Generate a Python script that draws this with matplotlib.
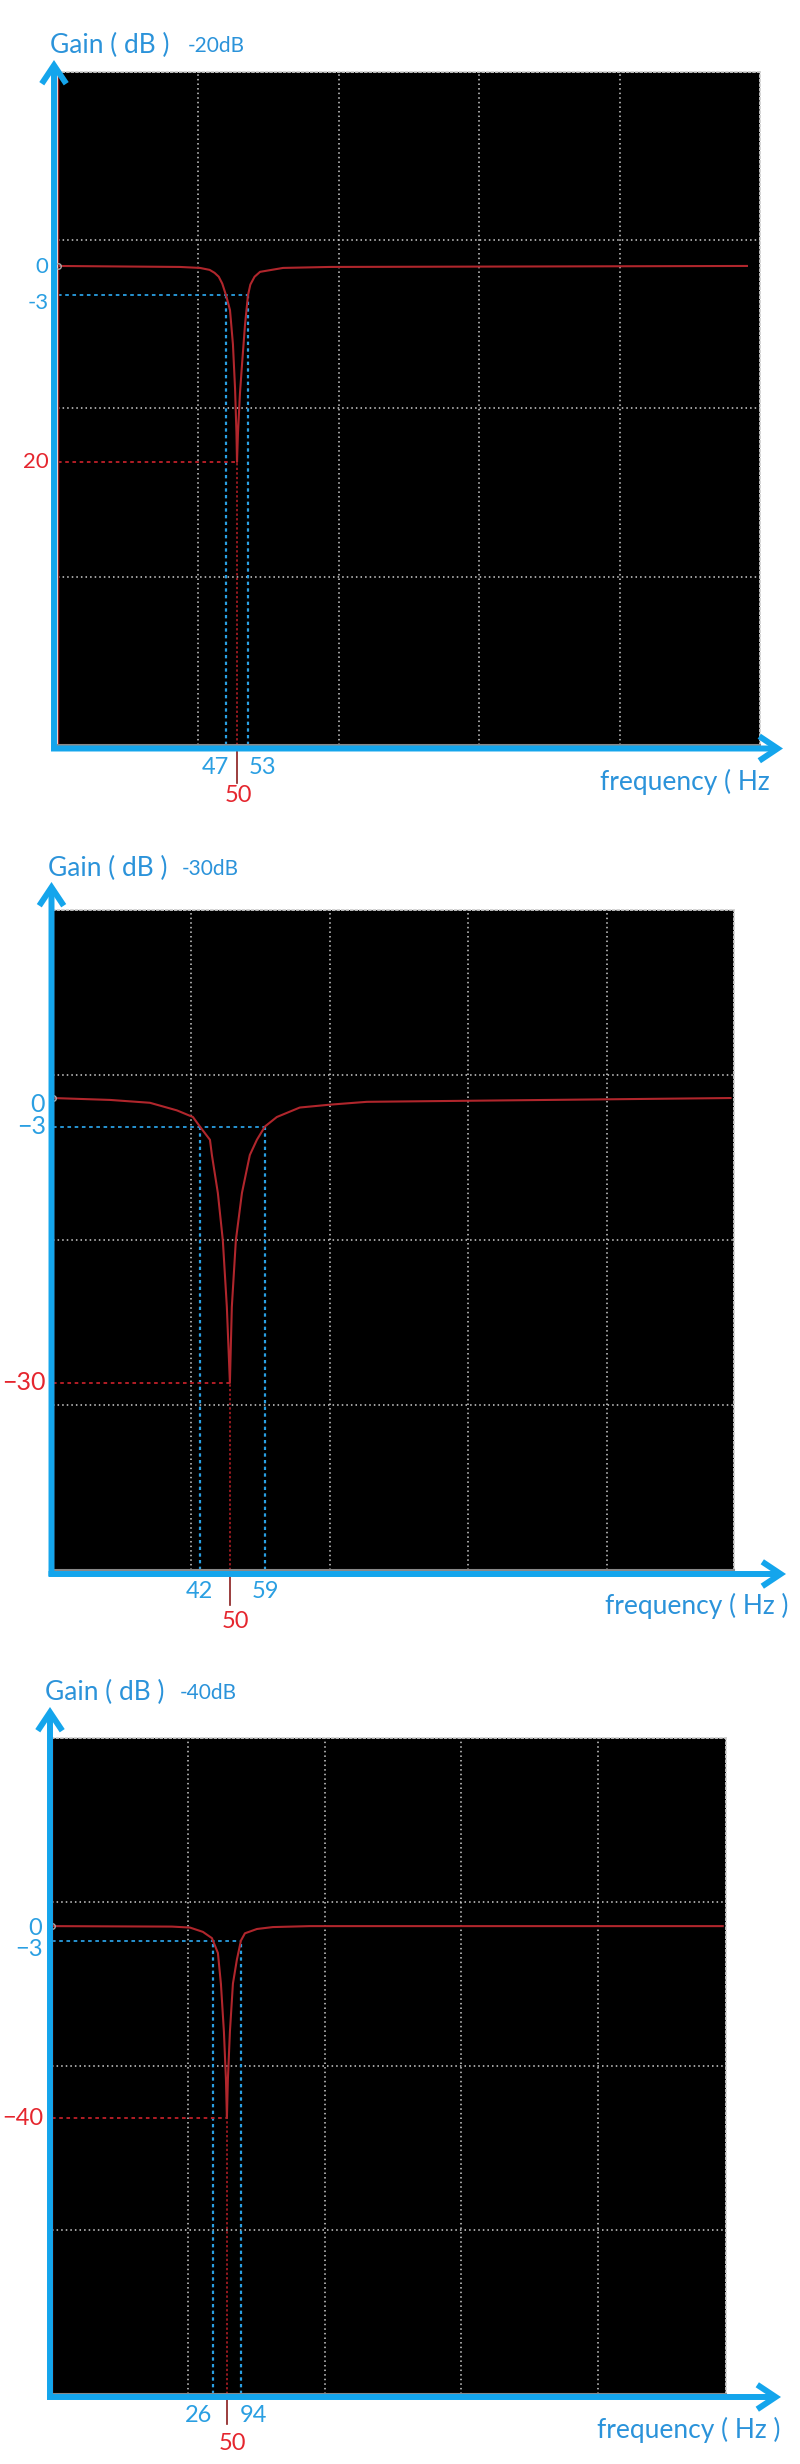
import matplotlib
matplotlib.use("Agg")
import numpy as np
import matplotlib.pyplot as plt
import matplotlib.transforms as mtransforms
from matplotlib.patches import FancyArrowPatch

plt.rcParams['font.family'] = ['Lato', 'DejaVu Sans']

W, H = 800, 2464

# ---------------- data ----------------
titles = ["-20dB", "-30dB", "-40dB"]
depths = [-20, -30, -40]
depth_labels = ["20", "\u221230", "\u221240"]
m3_labels = ["-3", "\u22123", "\u22123"]
freq_names = ["frequency ( Hz", "frequency ( Hz )", "frequency ( Hz )"]

# -3 dB band edges and centre (Hz) and their place on the schematic axis (grid columns)
f_low = [47, 42, 26]
f_center = [50, 50, 50]
f_high = [53, 59, 94]
pos_low = [1.197, 1.061, 1.179]
pos_center = [1.275, 1.278, 1.282]
pos_high = [1.353, 1.531, 1.385]

# response curves: position (grid columns) and gain (dB)
x1 = [0, 0.869, 1.011, 1.080, 1.115, 1.145, 1.170, 1.197, 1.225, 1.246, 1.261, 1.271, 1.275,
      1.282, 1.296, 1.311, 1.332, 1.353, 1.370, 1.400, 1.439, 1.603, 1.937, 4.907]
g1 = [0, -0.1, -0.2, -0.4, -0.7, -1.1, -1.8, -3.0, -4.5, -8.0, -12.5, -17.0, -20.0,
      -17.0, -13.0, -10.0, -6.0, -3.0, -1.9, -1.1, -0.6, -0.2, -0.1, 0]

x2 = [0, 0.412, 0.700, 0.895, 1.011, 1.061, 1.134, 1.148, 1.191, 1.227, 1.256, 1.278,
      1.292, 1.321, 1.365, 1.422, 1.473, 1.531, 1.617, 1.783, 2.000, 2.267, 4.895]
g2 = [0, -0.2, -0.5, -1.3, -2.0, -3.0, -4.4, -6.0, -10.0, -15.0, -22.0, -30.0,
      -22.0, -15.0, -10.0, -6.0, -4.4, -3.0, -2.0, -1.0, -0.7, -0.4, 0]

x3 = [0, 0.879, 1.011, 1.106, 1.172, 1.216, 1.238, 1.260, 1.275, 1.282,
      1.289, 1.304, 1.326, 1.355, 1.385, 1.414, 1.502, 1.619, 1.890, 4.916]
g3 = [0, -0.1, -0.3, -1.2, -2.5, -5.6, -12.0, -22.0, -32.0, -40.0,
      -32.0, -22.0, -12.0, -7.0, -3.0, -1.5, -0.6, -0.2, 0, 0]

curves_x = [x1, x2, x3]
curves_g = [g1, g2, g3]

# ---------------- layout (pixels) ----------------
boxes = [(58, 760, 72, 745), (53, 734, 910, 1570), (52, 726, 1738, 2394)]
xmax = [5.0, 4.92, 4.94]
ylims = [(-48.9, 19.8), (-49.7, 19.8), (-97.5, 39.2)]
yaxis_x = [54, 51.5, 50]
xaxis_y = [748.5, 1574, 2397]
ytip = [60, 882, 1707]
xtip = [783, 786, 781]
title_y = [45, 868, 1692]
gain_x = [50, 48, 45]
sub_x = [188, 182, 180]
freq_pos = [(600, 782), (605, 1606), (597, 2430)]
tick_len = [38, 35, 30]
# label offsets in pixels (dx from marker, dy below the plot bottom)
low_dx = [-11, 0, -14]
high_dx = [15, 1, 12]
cen_dx = [1, 6, 6]
row1_dy = [22, 22, 21]
row2_dy = [50, 52, 49]
# y label (dx from plot left, dy from value)
y0_dy = [1, 6, 2]
y3_dy = [8, 0, 9]
ylab_dx = [-9, -7, -9]
ylab_size = [16, 18, 17]

axis_blue = '#14a5ec'
text_blue = '#2b93da'
num_blue = '#2a9fe2'
red_txt = '#e5262e'
curve_red = '#b0262c'
grid_c = '#cfcfcf'

fig = plt.figure(figsize=(W / 100, H / 100), dpi=100)
fig.patch.set_facecolor('white')


def fx(px):
    return px / W


def fy(py):
    return 1 - py / H


for i in range(3):
    left, right, top, bottom = boxes[i]
    ax = fig.add_axes([fx(left), fy(bottom), (right - left) / W, (bottom - top) / H])
    ax.set_facecolor('black')
    ylo, yhi = ylims[i]
    ax.set_xlim(0, xmax[i])
    ax.set_ylim(ylo, yhi)
    ax.set_xticks([1, 2, 3, 4])
    ax.set_yticks(np.linspace(ylo, yhi, 5)[1:4])
    ax.grid(True, color=grid_c, linestyle=(0, (1, 2)), linewidth=1.1)
    ax.tick_params(length=0, labelbottom=False, labelleft=False)
    for s in ['top', 'right']:
        ax.spines[s].set_color(grid_c)
        ax.spines[s].set_linestyle((0, (1, 1.5)))
        ax.spines[s].set_linewidth(1.3)
    ax.spines['bottom'].set_color('#888888')
    ax.spines['bottom'].set_linewidth(1.5)
    ax.spines['left'].set_color('#8a1c1c')
    ax.spines['left'].set_linewidth(1.0)

    # guide lines
    ax.hlines(-3, 0, pos_high[i], colors=num_blue, linestyles=(0, (2, 2)), linewidth=1.3)
    ax.vlines([pos_low[i], pos_high[i]], ylo, -3, colors=num_blue,
              linestyles=(0, (1.5, 1.5)), linewidth=1.6)
    ax.hlines(depths[i], 0, pos_center[i], colors='#c02028', linestyles=(0, (2, 2)), linewidth=1.3)
    ax.vlines(pos_center[i], ylo, depths[i], colors='#c02028',
              linestyles=(0, (1.5, 1.5)), linewidth=1.1)

    ax.plot(curves_x[i], curves_g[i], color=curve_red, linewidth=1.5)
    ax.plot(0, 0, 'o', mfc='none', mec='#aaaaaa', ms=4, mew=1, clip_on=False, zorder=5)

    ax_h = bottom - top
    trans = mtransforms.blended_transform_factory(ax.transData, ax.transAxes)
    ax.plot([pos_center[i], pos_center[i]], [0, -tick_len[i] / ax_h], color='#8a1c1c',
            linewidth=1.2, transform=trans, clip_on=False)

    # frequency labels under the axis
    ax.annotate(str(f_low[i]), xy=(pos_low[i], 0), xycoords=trans,
                xytext=(low_dx[i], -row1_dy[i]), textcoords='offset pixels',
                ha='center', va='center', fontsize=17, color=num_blue)
    ax.annotate(str(f_high[i]), xy=(pos_high[i], 0), xycoords=trans,
                xytext=(high_dx[i], -row1_dy[i]), textcoords='offset pixels',
                ha='center', va='center', fontsize=17, color=num_blue)
    ax.annotate(str(f_center[i]), xy=(pos_center[i], 0), xycoords=trans,
                xytext=(cen_dx[i], -row2_dy[i]), textcoords='offset pixels',
                ha='center', va='center', fontsize=17, color=red_txt)

    # gain labels on the left
    ytrans = mtransforms.blended_transform_factory(ax.transAxes, ax.transData)
    ax.annotate("0", xy=(0, 0), xycoords=ytrans, xytext=(ylab_dx[i] - 1, -y0_dy[i]),
                textcoords='offset pixels', ha='right', va='center',
                fontsize=ylab_size[i], color=num_blue)
    ax.annotate(m3_labels[i], xy=(0, -3), xycoords=ytrans, xytext=(ylab_dx[i], -y3_dy[i]),
                textcoords='offset pixels', ha='right', va='center',
                fontsize=ylab_size[i], color=num_blue)
    ax.annotate(depth_labels[i], xy=(0, depths[i]), xycoords=ytrans, xytext=(ylab_dx[i], 0),
                textcoords='offset pixels', ha='right', va='center',
                fontsize=ylab_size[i], color=red_txt)

    # blue arrow axes
    ya = FancyArrowPatch((fx(yaxis_x[i]), fy(xaxis_y[i] + 2)), (fx(yaxis_x[i]), fy(ytip[i])),
                         transform=fig.transFigure, arrowstyle='->,head_length=0.6,head_width=0.4',
                         mutation_scale=22, linewidth=4.3, color=axis_blue,
                         shrinkA=0, shrinkB=0, capstyle='butt', joinstyle='miter')
    xa = FancyArrowPatch((fx(yaxis_x[i] - 3), fy(xaxis_y[i])), (fx(xtip[i]), fy(xaxis_y[i])),
                         transform=fig.transFigure, arrowstyle='->,head_length=0.6,head_width=0.4',
                         mutation_scale=22, linewidth=4.3, color=axis_blue,
                         shrinkA=0, shrinkB=0, capstyle='butt', joinstyle='miter')
    fig.patches.extend([ya, xa])

    # titles
    fig.text(fx(gain_x[i]), fy(title_y[i]), "Gain ( dB )", fontsize=19, color=text_blue,
             ha='left', va='center')
    fig.text(fx(sub_x[i]), fy(title_y[i] + 1), titles[i], fontsize=15, color=text_blue,
             ha='left', va='center')
    fig.text(fx(freq_pos[i][0]), fy(freq_pos[i][1]), freq_names[i], fontsize=19,
             color=text_blue, ha='left', va='center')

fig.savefig('out.png', dpi=100, facecolor='white')
